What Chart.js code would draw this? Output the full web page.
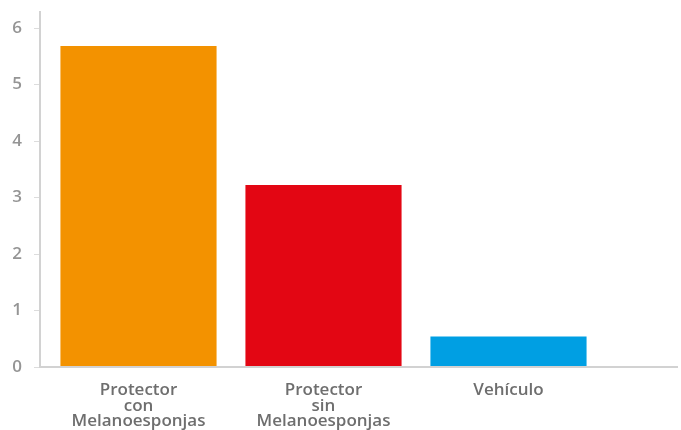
<!DOCTYPE html>
<html><head><meta charset="utf-8">
<script src="https://cdn.jsdelivr.net/npm/chart.js@4/dist/chart.umd.min.js"></script>
<style>html,body{margin:0;padding:0;background:#fff}#w{width:681px;height:430px}</style>
</head><body><div id="w"><canvas id="c"></canvas></div>
<script>
const categories = [["Protector","con","Melanoesponjas"],["Protector","sin","Melanoesponjas"],"Vehículo"];
const values = [5.68, 3.22, 0.54];
const barColors = ["#F39200","#E30613","#009FE3"];
const yTicks = [0,1,2,3,4,5,6];

const axesLines = {
  id:'axesLines',
  afterDraw(chart){
    const {ctx, chartArea, scales} = chart;
    const ax = chartArea.left - 6;
    ctx.save();
    ctx.strokeStyle = '#d2d2d2';
    ctx.lineWidth = 2;
    ctx.beginPath();
    ctx.moveTo(ax, chartArea.top);
    ctx.lineTo(ax, chartArea.bottom);
    ctx.lineTo(678, chartArea.bottom);
    ctx.stroke();
    ctx.lineWidth = 1;
    ctx.strokeStyle = '#dcdcdc';
    yTicks.forEach(v=>{
      const y = Math.round(scales.y.getPixelForValue(v)) + 0.5;
      ctx.beginPath();
      ctx.moveTo(ax - 6, y);
      ctx.lineTo(ax - 1, y);
      ctx.stroke();
    });
    ctx.restore();
  }
};

new Chart(document.getElementById('c'), {
  type:'bar',
  data:{labels:categories, datasets:[{data:values, backgroundColor:barColors, borderWidth:0, barPercentage:0.844, categoryPercentage:1}]},
  options:{
    responsive:true, maintainAspectRatio:false, animation:false,
    layout:{padding:{top:11,right:80,bottom:0,left:0}},
    plugins:{legend:{display:false}, tooltip:{enabled:false}},
    scales:{
      x:{
        afterFit(s){ s.height = 63; s.paddingLeft = 0; s.paddingRight = 0; s.paddingTop = 0; s.paddingBottom = 0; },
        grid:{display:false, drawTicks:false},
        border:{display:false},
        ticks:{padding:16, color:'#6e6e6e', font:{family:'Open Sans', size:17, weight:'600', lineHeight:0.9}, maxRotation:0, autoSkip:false}
      },
      y:{
        min:0, max:6.3,
        afterFit(s){ s.width = 46; s.paddingTop = 0; s.paddingBottom = 0; },
        afterBuildTicks(s){ s.ticks = yTicks.map(v=>({value:v})); },
        grid:{display:false, drawTicks:false},
        border:{display:false},
        ticks:{padding:24, color:'#959595', font:{family:'Open Sans', size:17, weight:'600'}}
      }
    }
  },
  plugins:[axesLines]
});
</script></body></html>
